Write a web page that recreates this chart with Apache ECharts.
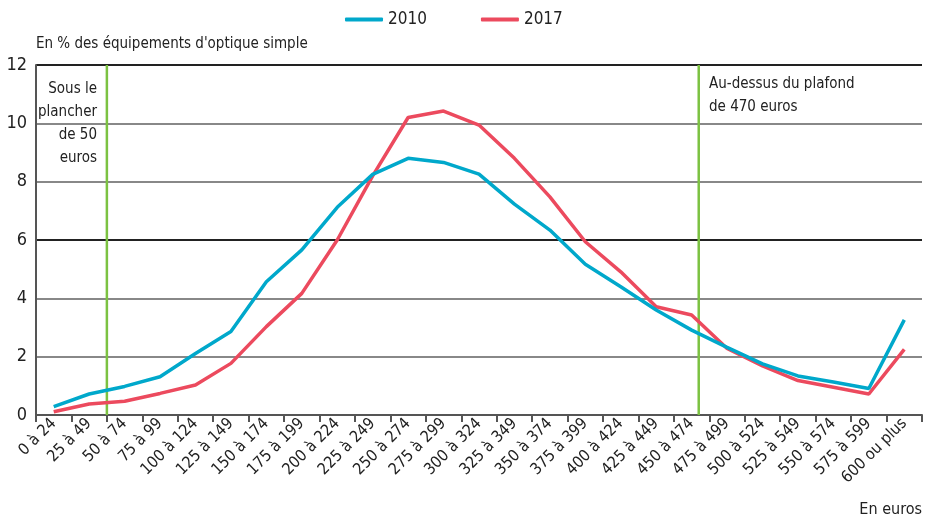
<!DOCTYPE html>
<html><head><meta charset="utf-8">
<script src="https://cdn.jsdelivr.net/npm/echarts@6/dist/echarts.min.js"></script>
<style>html,body{margin:0;padding:0;background:#fff}#c{width:927px;height:523px}</style>
</head><body><div id="c"></div>
<script>
const categories = ['0 à 24','25 à 49','50 à 74','75 à 99','100 à 124','125 à 149','150 à 174','175 à 199','200 à 224','225 à 249','250 à 274','275 à 299','300 à 324','325 à 349','350 à 374','375 à 399','400 à 424','425 à 449','450 à 474','475 à 499','500 à 524','525 à 549','550 à 574','575 à 599','600 ou plus'];
const values2010 = [0.29,0.72,0.98,1.31,2.11,2.86,4.57,5.66,7.12,8.25,8.80,8.66,8.26,7.23,6.34,5.17,4.40,3.60,2.91,2.32,1.75,1.34,1.13,0.91,3.26];
const values2017 = [0.11,0.38,0.47,0.74,1.03,1.77,3.03,4.17,6.00,8.20,10.20,10.42,9.94,8.80,7.48,5.94,4.91,3.71,3.43,2.28,1.68,1.18,0.95,0.72,2.25];
const thresholds = [1.5, 18.2]; // positions in category-index units (50 € floor, 470 € ceiling)
const yTicks = [0,2,4,6,8,10,12];

const FONT = "'DejaVu Sans Condensed', 'Liberation Sans Narrow', sans-serif";
const BLUE = '#00a8cb', RED = '#ec4a5e', GREEN = '#7cc242';

const chart = echarts.init(document.getElementById('c'));
chart.setOption({
  animation: false,
  textStyle: {fontFamily: FONT},
  legend: {
    top: 6, left: 340, itemGap: 54, itemWidth: 38, itemHeight: 4,
    icon: 'roundRect',
    textStyle: {fontFamily: FONT, fontSize: 17, color: '#222'},
    data: ['2010','2017']
  },
  grid: {left: 36, right: 5, top: 65, bottom: 108, outerBoundsMode: 'none', containLabel: false},
  xAxis: [{
    type: 'category', data: categories, boundaryGap: true,
    axisLine: {lineStyle: {color: '#555', width: 2}},
    axisTick: {show: true, length: 7, lineStyle: {color: '#555', width: 2}},
    axisLabel: {rotate: 45, fontSize: 16, color: '#222', fontFamily: FONT, margin: 6, interval: 0},
    splitLine: {show: false}
  },{
    type: 'value', min: -0.5, max: categories.length - 0.5, show: false
  }],
  yAxis: {
    type: 'value', min: 0, max: 12, interval: 2,
    axisLine: {show: true, onZero: false, lineStyle: {color: '#555', width: 2}},
    axisTick: {show: false},
    axisLabel: {fontSize: 18, color: '#222', fontFamily: FONT, margin: 9,
      formatter: v => yTicks.includes(v) ? String(v) : ''},
    splitLine: {lineStyle: {width: 2, color: ['#888','#888','#888','#222','#888','#888','#222']}}
  },
  series: [
    {name: '2010', type: 'line', data: values2010, symbol: 'none', lineStyle: {color: BLUE, width: 3.5}, itemStyle: {color: BLUE}, z: 3},
    {name: '2017', type: 'line', data: values2017, symbol: 'none', lineStyle: {color: RED, width: 3.5}, itemStyle: {color: RED}, z: 2},
    ...thresholds.map((t,i) => ({
      name: 'seuil' + i, type: 'line', xAxisIndex: 1, symbol: 'none', silent: true,
      data: [[t,0],[t,12]], lineStyle: {color: GREEN, width: 2.5}, z: 1
    }))
  ],
  graphic: [
    {type: 'text', x: 36, y: 37, style: {text: "En % des équipements d'optique simple", font: "15px " + FONT, fill: '#222'}},
    {type: 'text', x: 922, y: 502, style: {text: 'En euros', font: "16px " + FONT, fill: '#222', align: 'right'}},
    {type: 'text', x: 97, y: 78, style: {text: 'Sous le\nplancher\nde 50\neuros', font: "15px " + FONT, fill: '#222', align: 'right', lineHeight: 23}},
    {type: 'text', x: 709, y: 73, style: {text: 'Au-dessus du plafond\nde 470 euros', font: "15px " + FONT, fill: '#222', lineHeight: 23}}
  ]
});
</script></body></html>
